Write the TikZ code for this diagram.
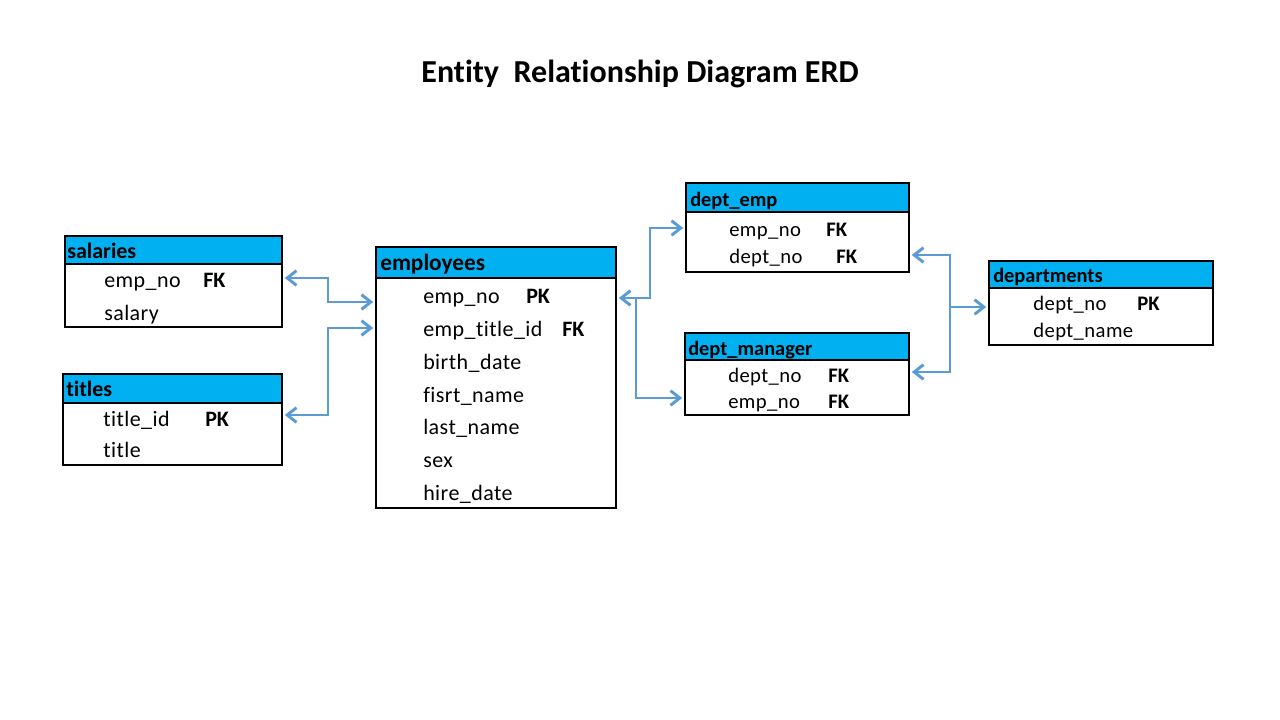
\documentclass[tikz,border=0pt]{standalone}
\usepackage{fontspec}
\setmainfont{Carlito}[Ligatures=NoCommon]
\usetikzlibrary{arrows.meta,fit}
\definecolor{hblue}{HTML}{00B0F0}
\definecolor{lblue}{HTML}{5B9BD5}
\tikzset{
  tbl/.style={draw=black, line width=2.2pt, fill=white, inner sep=0pt},
  hdr/.style={draw=black, line width=2.2pt, fill=hblue, inner sep=0pt},
  htext/.style={anchor=base west, inner sep=0pt, font=\fontsize{16.5}{18}\selectfont\bfseries},
  htextl/.style={anchor=base west, inner sep=0pt, font=\fontsize{17.5}{19}\selectfont\bfseries},
  htexts/.style={anchor=base west, inner sep=0pt, font=\fontsize{15.3}{17}\selectfont\bfseries},
  row/.style={anchor=base west, inner sep=0pt, font=\fontsize{16.5}{18}\selectfont\addfontfeature{LetterSpace=2}},
  rows/.style={anchor=base west, inner sep=0pt, font=\fontsize{15.5}{17}\selectfont\addfontfeature{LetterSpace=2}},
  key/.style={anchor=base west, inner sep=0pt, font=\fontsize{16.5}{18}\selectfont\bfseries},
  keys/.style={anchor=base west, inner sep=0pt, font=\fontsize{15.5}{17}\selectfont\bfseries},
  barbtip/.tip={Straight Barb[length=7pt,width=11pt,line width=2.2pt]},
  conn/.style={draw=lblue, line width=2.2pt, line join=miter, arrows={barbtip-barbtip}},
  connr/.style={draw=lblue, line width=2.2pt, line join=miter, arrows={-barbtip}},
  connl/.style={draw=lblue, line width=2.2pt, line join=miter, arrows={barbtip-}}
}
\begin{document}
\begin{tikzpicture}[x=0.75pt,y=-0.75pt]
\useasboundingbox[fill=white] (0,0) rectangle (1280,720);

% title
\node[anchor=base, inner sep=0pt, font=\fontsize{24}{28}\selectfont\bfseries] (title) at (640,83) {Entity\ \ Relationship Diagram ERD};

% salaries
\node[tbl, fit={(65,264) (282,327)}] (salb) {};
\node[hdr, fit={(65,236) (282,264)}] (salh) {};
\node[htext] (salt) at (67,258) {salaries};
\node[row] (sal1) at (104,287) {emp\_no};
\node[key] (sal1k) at (203,287) {FK};
\node[row] (sal2) at (104,320) {salary};

% titles
\node[tbl, fit={(63,403) (282,465)}] (titb) {};
\node[hdr, fit={(63,374) (282,403)}] (tith) {};
\node[htext] (titt) at (66,396) {titles};
\node[row] (tit1) at (103,426) {title\_id};
\node[key] (tit1k) at (205,426) {PK};
\node[row] (tit2) at (103,457) {title};

% employees
\node[tbl, fit={(376,278) (616,508)}] (empb) {};
\node[hdr, fit={(376,247) (616,278)}] (emph) {};
\node[htextl] (empt) at (380,270) {employees};
\node[row] (emp1) at (423,303) {emp\_no};
\node[key] (emp1k) at (526,303) {PK};
\node[row] (emp2) at (423,336) {emp\_title\_id};
\node[key] (emp2k) at (562,336) {FK};
\node[row] (emp3) at (423,369) {birth\_date};
\node[row] (emp4) at (423,402) {fisrt\_name};
\node[row] (emp5) at (423,434) {last\_name};
\node[row] (emp6) at (423,467) {sex};
\node[row] (emp7) at (423,500) {hire\_date};

% dept_emp
\node[tbl, fit={(686,212) (909,272)}] (deb) {};
\node[hdr, fit={(686,183) (909,212)}] (deh) {};
\node[htexts] (det) at (690,207) {dept\_emp};
\node[rows] (de1) at (729,237) {emp\_no};
\node[keys] (de1k) at (826,237) {FK};
\node[rows] (de2) at (729,263) {dept\_no};
\node[keys] (de2k) at (836,263) {FK};

% dept_manager
\node[tbl, fit={(685,360) (909,415)}] (dmb) {};
\node[hdr, fit={(685,333) (909,360)}] (dmh) {};
\node[htexts] (dmt) at (688,355) {dept\_manager};
\node[rows] (dm1) at (728,382) {dept\_no};
\node[keys] (dm1k) at (828,382) {FK};
\node[rows] (dm2) at (728,408) {emp\_no};
\node[keys] (dm2k) at (828,408) {FK};

% departments
\node[tbl, fit={(989,288) (1213,345)}] (dpb) {};
\node[hdr, fit={(989,261) (1213,288)}] (dph) {};
\node[htexts] (dpt) at (993,282) {departments};
\node[rows] (dp1) at (1033,310) {dept\_no};
\node[keys] (dp1k) at (1137,310) {PK};
\node[rows] (dp2) at (1033,337) {dept\_name};

% bend coordinates
\coordinate (a1) at (328,278);
\coordinate (a2) at (328,302);
\coordinate (t1) at (328,415);
\coordinate (t2) at (328,328);
\coordinate (e1) at (650,298);
\coordinate (e2) at (650,228);
\coordinate (e3) at (636,298);
\coordinate (e4) at (636,398);
\coordinate (d0) at (950,307);
\coordinate (d1) at (950,255);
\coordinate (d2) at (950,372);

% connectors
\draw[conn] ([xshift=1pt]salb.east |- a1) -- (a1) -- (a2) -- ([xshift=-1pt]empb.west |- a2);
\draw[conn] ([xshift=1pt]titb.east |- t1) -- (t1) -- (t2) -- ([xshift=-1pt]empb.west |- t2);
\draw[conn] ([xshift=1pt]empb.east |- e1) -- (e1) -- (e2) -- ([xshift=-1pt]deb.west |- e2);
\draw[connr] (e3) -- (e4) -- ([xshift=-1pt]dmb.west |- e4);
\draw[connl] ([xshift=-1pt]dpb.west |- d0) -- (d0);
\draw[conn] ([xshift=1pt]deb.east |- d1) -- (d1) -- (d2) -- ([xshift=1pt]dmb.east |- d2);
\end{tikzpicture}
\end{document}
